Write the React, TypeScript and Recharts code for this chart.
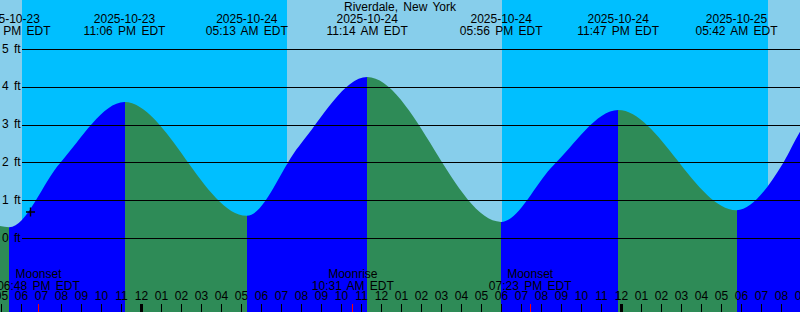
import React from 'react';
import { ComposedChart, Area, XAxis, YAxis, ReferenceArea, ReferenceLine, ReferenceDot } from 'recharts';

const W = 800;
const H = 312;
const FONT = "'Liberation Sans', Arial, Helvetica, sans-serif";

const TITLE = 'Riverdale, New York';
const BASE_DATE = '2025-10-24';

// Tide extremes (high / low)
const tideDates = ['2025-10-23', '2025-10-23', '2025-10-23', '2025-10-24', '2025-10-24', '2025-10-24', '2025-10-24', '2025-10-25', '2025-10-25'];
const tideTimes = ['11:00 AM', '05:20 PM', '11:06 PM', '05:13 AM', '11:14 AM', '05:56 PM', '11:47 PM', '05:42 AM', '12:00 PM'];
const tideHeights = [4.3, 0.3, 3.61, 0.6, 4.27, 0.44, 3.4, 0.75, 4.3];

// Extra readings along the flood (rising) limbs
const floodDates = ['2025-10-23', '2025-10-24', '2025-10-24', '2025-10-25', '2025-10-25'];
const floodTimes = ['07:53 PM', '07:50 AM', '08:33 PM', '08:02 AM', '08:53 AM'];
const floodHeights = [2.0, 2.45, 1.94, 2.0, 2.83];

// Daylight
const sunDates = ['2025-10-23', '2025-10-24', '2025-10-25'];
const sunrises = ['07:12 AM', '07:14 AM', '07:16 AM'];
const sunsets = ['05:59 PM', '05:58 PM', '05:56 PM'];

// Moon events
const moonNames = ['Moonset', 'Moonrise', 'Moonset'];
const moonDates = ['2025-10-23', '2025-10-24', '2025-10-24'];
const moonTimes = ['06:48 PM', '10:31 AM', '07:23 PM'];

// Current reading marker
const nowDate = '2025-10-23';
const nowTime = '06:24 PM';
const nowHeight = 0.7;

// Feet gridlines
const feetTicks = [0, 1, 2, 3, 4, 5];

// Visible window (hours from BASE_DATE midnight) and height range (ft)
const X_MIN = -7.125;
const X_MAX = 32.875;
const Y_MIN = -1.944;
const Y_MAX = 6.31;

const COLORS = {
  day: '#87CEEB',
  night: '#00BFFF',
  flood: '#0000FF',
  ebb: '#2E8B57',
  moon: '#FF0000',
};

function dayIndex(date: string) {
  const [y, m, d] = date.split('-').map(Number);
  return Date.UTC(y, m - 1, d) / 86400000;
}

function toHours(date: string, time: string) {
  const [hm, ap] = time.split(' ');
  let [h, m] = hm.split(':').map(Number);
  if (ap === 'PM' && h !== 12) h += 12;
  if (ap === 'AM' && h === 12) h = 0;
  return (dayIndex(date) - dayIndex(BASE_DATE)) * 24 + h + m / 60;
}

const tideT = tideDates.map((d, i) => toHours(d, tideTimes[i]));
const floodT = floodDates.map((d, i) => toHours(d, floodTimes[i]));
const moonT = moonDates.map((d, i) => toHours(d, moonTimes[i]));

const tideData = [
  ...tideT.map((t, i) => ({ t, h: tideHeights[i] })),
  ...floodT.map((t, i) => ({ t, h: floodHeights[i] })),
].sort((a, b) => a.t - b.t);

const T0 = tideT[0];
const TSPAN = tideT[tideT.length - 1] - T0;
const gradientStops: { offset: number; color: string }[] = [];
for (let i = 0; i < tideT.length - 1; i++) {
  const color = tideHeights[i + 1] > tideHeights[i] ? COLORS.flood : COLORS.ebb;
  gradientStops.push({ offset: (tideT[i] - T0) / TSPAN, color });
  gradientStops.push({ offset: (tideT[i + 1] - T0) / TSPAN, color });
}

const hourTicks: number[] = [];
for (let h = Math.ceil(X_MIN); h <= Math.ceil(X_MAX); h++) hourTicks.push(h);

const textStyle = { fontFamily: FONT, fontSize: 12, fill: '#000', wordSpacing: 2 } as const;

const HourTick = (props: any) => {
  const { viewBox, value } = props;
  const x = viewBox.x + (viewBox.width || 0) / 2;
  const hod = ((value % 24) + 24) % 24;
  const h12 = hod % 12 === 0 ? 12 : hod % 12;
  const label = String(h12).padStart(2, '0');
  const nearMoon = moonT.some((m) => Math.abs(m - value) < 0.25);
  const midnight = hod === 0;
  return (
    <g>
      <text x={x - 1} y={H - 12} textAnchor="middle" style={textStyle}>{label}</text>
      {!nearMoon && (
        <rect
          x={midnight ? x - 2.5 : x - 1.5}
          y={H - 8}
          width={midnight ? 3 : 1}
          height={8}
          fill="#000"
          shapeRendering="crispEdges"
        />
      )}
    </g>
  );
};

const MoonTick = (props: any) => {
  const { viewBox } = props;
  const x = viewBox.x + (viewBox.width || 0) / 2;
  return <rect x={x - 0.5} y={H - 8} width={1} height={8} fill={COLORS.moon} shapeRendering="crispEdges" />;
};

const FeetTick = (props: any) => {
  const { viewBox, value } = props;
  const y = viewBox.y + (viewBox.height || 0) / 2;
  return (
    <g>
      <text x={2} y={y + 3} textAnchor="start" style={textStyle}>{`${value} ft`}</text>
      <line x1={22} x2={W} y1={y} y2={y} stroke="#000" strokeWidth={1} shapeRendering="crispEdges" />
    </g>
  );
};

const TideLabel = (props: any) => {
  const { viewBox, date, time } = props;
  const x = viewBox.x + (viewBox.width || 0) / 2;
  return (
    <g>
      <text x={x} y={23} textAnchor="middle" style={textStyle}>{date}</text>
      <text x={x} y={35} textAnchor="middle" style={textStyle}>{time}</text>
    </g>
  );
};

const MoonLabel = (props: any) => {
  const { viewBox, name, time } = props;
  const x = viewBox.x + (viewBox.width || 0) / 2;
  return (
    <g>
      <text x={x} y={H - 34.5} textAnchor="middle" style={textStyle}>{name}</text>
      <text x={x} y={H - 22.5} textAnchor="middle" style={textStyle}>{time}</text>
    </g>
  );
};

const PlusShape = (props: any) => {
  const { cx, cy } = props;
  return (
    <path d={`M${cx - 4.5},${cy}H${cx + 4.5}M${cx},${cy - 4.5}V${cy + 4.5}`} stroke="#000" strokeWidth={1.4} fill="none" />
  );
};

export default function App() {
  return (
    <div style={{ position: 'absolute', left: 0, top: 0, width: W, height: H, overflow: 'hidden', fontFamily: FONT }}>
      <ComposedChart width={W} height={H} data={tideData} margin={{ top: 0, right: 0, bottom: 0, left: 0 }}>
        <defs>
          <linearGradient id="tideFill" x1="0" y1="0" x2="1" y2="0">
            {gradientStops.map((s, i) => (
              <stop key={i} offset={s.offset} stopColor={s.color} />
            ))}
          </linearGradient>
        </defs>
        <XAxis dataKey="t" type="number" domain={[X_MIN, X_MAX]} allowDataOverflow hide />
        <YAxis type="number" domain={[Y_MIN, Y_MAX]} allowDataOverflow hide />
        <ReferenceArea x1={X_MIN} x2={X_MAX} y1={Y_MIN} y2={Y_MAX} fill={COLORS.night} fillOpacity={1} stroke="none" ifOverflow="hidden" zIndex={-300} shapeRendering="crispEdges" />
        {sunDates.map((d, i) => (
          <ReferenceArea
            key={`sun${i}`}
            x1={Math.max(X_MIN, toHours(d, sunrises[i]))}
            x2={Math.min(X_MAX, toHours(d, sunsets[i]))}
            y1={Y_MIN}
            y2={Y_MAX}
            fill={COLORS.day}
            fillOpacity={1}
            stroke="none"
            ifOverflow="hidden"
            zIndex={-250}
            shapeRendering="crispEdges"
          />
        ))}
        <Area
          type="monotone"
          dataKey="h"
          stroke="none"
          fill="url(#tideFill)"
          fillOpacity={1}
          baseValue={Y_MIN}
          isAnimationActive={false}
          dot={false}
          activeDot={false}
        />
        {feetTicks.map((v) => (
          <ReferenceLine
            key={`ft${v}`}
            y={v}
            stroke="none"
            zIndex={1500}
            label={<FeetTick value={v} />}
          />
        ))}
        {hourTicks.map((v) => (
          <ReferenceLine
            key={`hr${v}`}
            x={v}
            stroke="none"
            ifOverflow="visible"
            zIndex={1500}
            label={<HourTick value={v} />}
          />
        ))}
        {moonT.map((t, i) => (
          <ReferenceLine
            key={`mt${i}`}
            x={t}
            stroke="none"
            zIndex={1500}
            label={<MoonTick />}
          />
        ))}
        {tideT.map((t, i) => (
          <ReferenceLine
            key={`tl${i}`}
            x={t}
            stroke="none"
            zIndex={2000}
            label={<TideLabel date={tideDates[i]} time={`${tideTimes[i]} EDT`} />}
          />
        ))}
        {moonT.map((t, i) => (
          <ReferenceLine
            key={`ml${i}`}
            x={t}
            stroke="none"
            zIndex={2000}
            label={<MoonLabel name={moonNames[i]} time={`${moonTimes[i]} EDT`} />}
          />
        ))}
        <ReferenceDot
          x={toHours(nowDate, nowTime)}
          y={nowHeight}
          r={4}
          zIndex={2100}
          shape={<PlusShape />}
        />
      </ComposedChart>
      <div
        style={{
          position: 'absolute',
          left: 0,
          top: 0,
          width: W,
          textAlign: 'center',
          fontSize: 12,
          lineHeight: '14px',
          wordSpacing: 2,
          color: '#000',
          pointerEvents: 'none',
        }}
      >
        {TITLE}
      </div>
    </div>
  );
}
